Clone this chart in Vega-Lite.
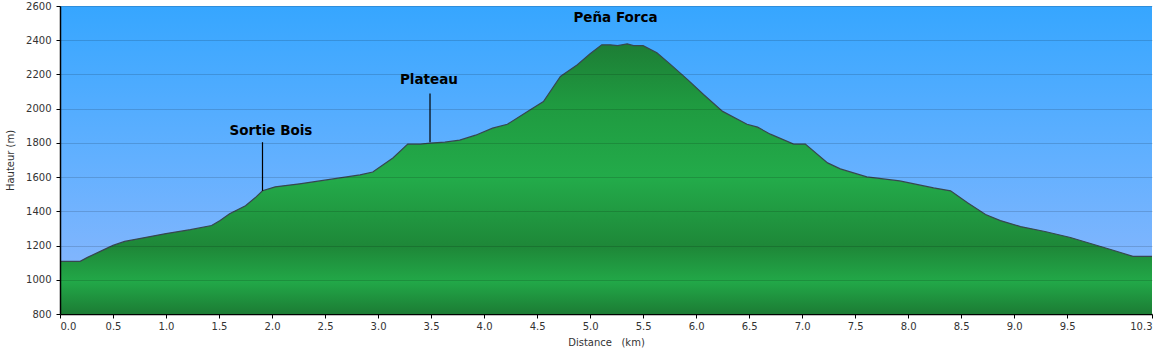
{
  "$schema": "https://vega.github.io/schema/vega-lite/v6.json",
  "width": 1092,
  "height": 308,
  "autosize": "none",
  "padding": {"left": 60, "top": 6, "right": 4, "bottom": 41},
  "background": "white",
  "view": {
    "stroke": null,
    "fill": {
      "gradient": "linear", "x1": 0, "y1": 0, "x2": 0, "y2": 1,
      "stops": [
        {"offset": 0, "color": "#36a6ff"},
        {"offset": 0.5, "color": "#62b0ff"},
        {"offset": 1, "color": "#90b8fc"}
      ]
    }
  },
  "datasets": {
    "profile": [
      {"d": 0.00, "h": 1108}, {"d": 0.19, "h": 1108}, {"d": 0.26, "h": 1131}, {"d": 0.38, "h": 1166},
      {"d": 0.50, "h": 1201}, {"d": 0.61, "h": 1224}, {"d": 0.75, "h": 1241}, {"d": 1.00, "h": 1270},
      {"d": 1.23, "h": 1293}, {"d": 1.43, "h": 1317}, {"d": 1.51, "h": 1346}, {"d": 1.60, "h": 1386},
      {"d": 1.75, "h": 1433}, {"d": 1.84, "h": 1479}, {"d": 1.91, "h": 1520}, {"d": 2.03, "h": 1543},
      {"d": 2.26, "h": 1561}, {"d": 2.45, "h": 1578}, {"d": 2.64, "h": 1595}, {"d": 2.83, "h": 1613},
      {"d": 2.95, "h": 1630}, {"d": 3.14, "h": 1712}, {"d": 3.28, "h": 1793}, {"d": 3.40, "h": 1793},
      {"d": 3.49, "h": 1799}, {"d": 3.63, "h": 1804}, {"d": 3.77, "h": 1816}, {"d": 3.92, "h": 1845},
      {"d": 4.08, "h": 1886}, {"d": 4.22, "h": 1909}, {"d": 4.41, "h": 1984}, {"d": 4.56, "h": 2042},
      {"d": 4.72, "h": 2188}, {"d": 4.88, "h": 2257}, {"d": 5.00, "h": 2321}, {"d": 5.11, "h": 2373},
      {"d": 5.19, "h": 2373}, {"d": 5.26, "h": 2368}, {"d": 5.35, "h": 2379}, {"d": 5.41, "h": 2368},
      {"d": 5.50, "h": 2368}, {"d": 5.63, "h": 2327}, {"d": 5.75, "h": 2263}, {"d": 5.92, "h": 2170},
      {"d": 6.07, "h": 2083}, {"d": 6.25, "h": 1984}, {"d": 6.48, "h": 1909}, {"d": 6.58, "h": 1892},
      {"d": 6.70, "h": 1851}, {"d": 6.92, "h": 1793}, {"d": 7.03, "h": 1793}, {"d": 7.24, "h": 1683},
      {"d": 7.36, "h": 1648}, {"d": 7.61, "h": 1601}, {"d": 7.92, "h": 1578}, {"d": 8.24, "h": 1537},
      {"d": 8.40, "h": 1520}, {"d": 8.56, "h": 1450}, {"d": 8.73, "h": 1381}, {"d": 8.87, "h": 1346},
      {"d": 9.06, "h": 1311}, {"d": 9.29, "h": 1282}, {"d": 9.53, "h": 1247}, {"d": 9.72, "h": 1212},
      {"d": 9.91, "h": 1177}, {"d": 10.12, "h": 1137}, {"d": 10.30, "h": 1137}
    ],
    "notes": [
      {"label": "Sortie Bois", "tx": 1.99, "ty": 1870, "lx": 1.91, "top": 1804, "bottom": 1520},
      {"label": "Plateau", "tx": 3.48, "ty": 2170, "lx": 3.49, "top": 2089, "bottom": 1804},
      {"label": "Peña Forca", "tx": 5.24, "ty": 2530, "lx": null, "top": null, "bottom": null}
    ]
  },
  "layer": [
    {
      "data": {"name": "profile"},
      "mark": {
        "type": "area",
        "opacity": 1,
        "fillOpacity": 1,
        "line": {"color": "#37474f", "strokeWidth": 1.2},
        "fill": {
          "gradient": "linear", "x1": 0, "y1": 0, "x2": 0, "y2": 1,
          "stops": [
            {"offset": 0, "color": "#1d7d35"},
            {"offset": 0.22, "color": "#1f9a40"},
            {"offset": 0.5, "color": "#23ab4a"},
            {"offset": 0.75, "color": "#1e8738"},
            {"offset": 0.88, "color": "#22a848"},
            {"offset": 1, "color": "#1c7c34"}
          ]
        }
      },
      "encoding": {
        "x": {
          "field": "d", "type": "quantitative",
          "scale": {"domain": [0, 10.3], "nice": false, "zero": false},
          "axis": {
            "title": "Distance\u00a0\u00a0\u00a0(km)",
            "values": [0, 0.5, 1, 1.5, 2, 2.5, 3, 3.5, 4, 4.5, 5, 5.5, 6, 6.5, 7, 7.5, 8, 8.5, 9, 9.5, 10.3],
            "tickCount": 30,
            "format": ".1f",
            "labelOverlap": false,
            "grid": false,
            "domainColor": "#000000",
            "domainWidth": 1.5,
            "tickColor": "#000000",
            "tickSize": 4,
            "labelFont": "DejaVu Sans",
            "labelFontSize": 10,
            "labelColor": "#333333",
            "labelPadding": 3,
            "titleFont": "DejaVu Sans",
            "titleFontSize": 10,
            "titleFontWeight": "normal",
            "titleColor": "#333333",
            "titlePadding": 6
          }
        },
        "y": {
          "field": "h", "type": "quantitative",
          "scale": {"domain": [800, 2600], "nice": false, "zero": false},
          "axis": {
            "title": "Hauteur (m)",
            "values": [800, 1000, 1200, 1400, 1600, 1800, 2000, 2200, 2400, 2600],
            "tickCount": 12,
            "format": "d",
            "labelOverlap": false,
            "zindex": 1,
            "gridColor": "#000000",
            "gridOpacity": 0.14,
            "domainColor": "#000000",
            "domainWidth": 1.5,
            "tickColor": "#000000",
            "tickSize": 4,
            "labelFont": "DejaVu Sans",
            "labelFontSize": 10,
            "labelColor": "#333333",
            "labelPadding": 5,
            "titleFont": "DejaVu Sans",
            "titleFontSize": 10,
            "titleFontWeight": "normal",
            "titleColor": "#333333",
            "titlePadding": 10
          }
        },
        "y2": {"datum": 800}
      }
    },
    {
      "data": {"name": "notes"},
      "transform": [{"filter": "datum.lx != null"}],
      "mark": {"type": "rule", "color": "#000000", "strokeWidth": 1.2},
      "encoding": {
        "x": {"field": "lx", "type": "quantitative"},
        "y": {"field": "top", "type": "quantitative"},
        "y2": {"field": "bottom"}
      }
    },
    {
      "data": {"name": "notes"},
      "mark": {"type": "text", "font": "DejaVu Sans", "fontSize": 13.5, "fontWeight": "bold", "color": "#000000", "baseline": "middle", "align": "center"},
      "encoding": {
        "x": {"field": "tx", "type": "quantitative"},
        "y": {"field": "ty", "type": "quantitative"},
        "text": {"field": "label"}
      }
    }
  ]
}
